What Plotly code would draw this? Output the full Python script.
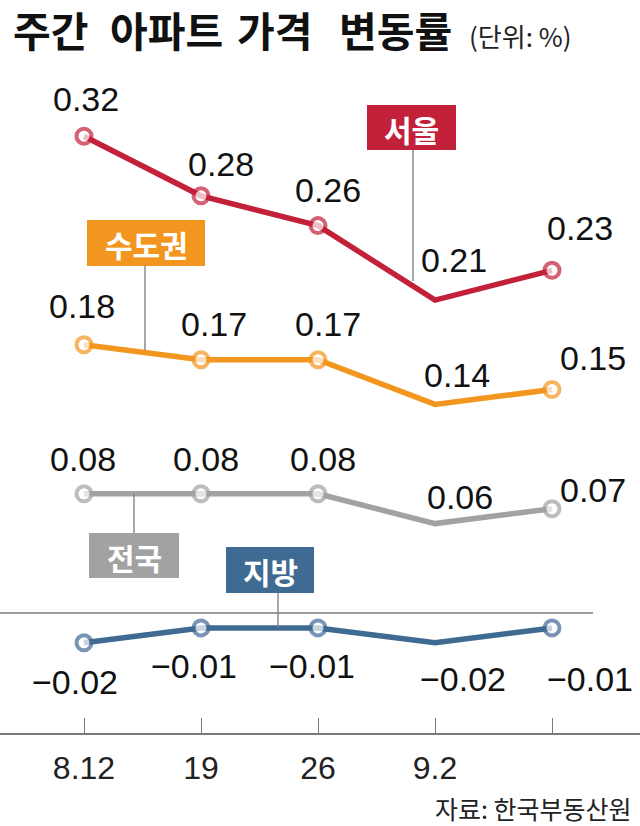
import plotly.graph_objects as go

# ---- data ----
categories = ["8.12", "19", "26", "9.2", ""]
series_names = ["서울", "수도권", "전국", "지방"]
seoul = [0.32, 0.28, 0.26, 0.21, 0.23]
capital = [0.18, 0.17, 0.17, 0.14, 0.15]
national = [0.08, 0.08, 0.08, 0.06, 0.07]
provinces = [-0.02, -0.01, -0.01, -0.02, -0.01]
title_words = ["주간", "아파트", "가격", "변동률"]

# ---- style ----
colors = {"서울": "#C3213A", "수도권": "#F3961F", "전국": "#A2A2A2", "지방": "#3F6B93"}
values = {"서울": seoul, "수도권": capital, "전국": national, "지방": provinces}
marker_sizes = [15, 15, 15, 0, 15]
# label offsets (px) per series per point
label_offsets = {
    "서울": [(2, -37), (20, -32), (10, -36), (19, -40), (28, -42)],
    "수도권": [(-2, -39), (13, -36), (10, -36), (22, -29), (41, -32)],
    "전국": [(-1, -35), (5, -35), (5, -35), (25, -27), (41, -19)],
    "지방": [(-9, 39), (-7, 38), (-6, 38), (28, 36), (38, 51)],
}
title_centers = [50, 166, 274, 395]

W, H = 640, 826
TOP, BOT = 60, 733  # plot area pixel bounds
K, ZERO = 1490.0, 613.0
yr = [(ZERO - BOT) / K, (ZERO - TOP) / K]
x0px, dxpx = 84.0, 117.0
xr = [(0 - x0px) / dxpx, (W - x0px) / dxpx]

def px(x):
    return x / W

def py(y):
    return (BOT - y) / (BOT - TOP)

NUMFONT = "Liberation Sans Narrow, Liberation Sans, Arial, sans-serif"
KFONT = "Noto Sans CJK KR, sans-serif"

fig = go.Figure()
xs = list(range(len(categories)))
for name in series_names:
    fig.add_trace(go.Scatter(
        x=xs, y=values[name], mode="lines+markers", name=name,
        line=dict(color=colors[name], width=5.5),
        marker=dict(symbol="circle", size=marker_sizes, color="white",
                    line=dict(color=colors[name], width=4)),
        hoverinfo="skip", showlegend=False,
    ))

annotations = []
for name in series_names:
    for i, v in enumerate(values[name]):
        dx, dy = label_offsets[name][i]
        txt = ("\u2212" + f"{abs(v):.2f}") if v < 0 else f"{v:.2f}"
        annotations.append(dict(
            x=i, y=v, xref="x", yref="y", text=txt, showarrow=False,
            xshift=dx, yshift=-dy, xanchor="center", yanchor="middle",
            font=dict(family=NUMFONT, size=34, color="#111111"),
        ))

shapes = []
# zero line
shapes.append(dict(type="line", xref="paper", yref="y", x0=0, x1=px(593), y0=0, y1=0,
                   line=dict(color="#7a7a7a", width=1.5)))

# label boxes: (name, x0, y0, x1, y1, leader_x, leader_y0, leader_y1)
boxes = [
    ("서울", 367, 105, 456, 150, 413, 150, 281),
    ("수도권", 87, 220, 205, 266, 145, 266, 350),
    ("전국", 89, 533, 179, 578, 134, 533, 494),
    ("지방", 226, 547, 314, 593, 278, 593, 628),
]
for name, bx0, by0, bx1, by1, lx, ly0, ly1 in boxes:
    shapes.append(dict(type="line", xref="paper", yref="paper",
                       x0=px(lx), x1=px(lx), y0=py(ly0), y1=py(ly1),
                       line=dict(color="#7a7a7a", width=1.3)))
    shapes.append(dict(type="rect", xref="paper", yref="paper",
                       x0=px(bx0), x1=px(bx1), y0=py(by1), y1=py(by0),
                       fillcolor=colors[name], line=dict(width=0), layer="above"))
    annotations.append(dict(
        x=px((bx0 + bx1) / 2), y=py((by0 + by1) / 2 + 1), xref="paper", yref="paper",
        text=f"<b>{name}</b>", showarrow=False, xanchor="center", yanchor="middle",
        font=dict(family=KFONT, size=30, color="white"),
    ))

# title (one word per annotation to keep the wide word spacing) & unit & source
for word, cx in zip(title_words, title_centers):
    annotations.append(dict(x=px(cx), y=py(29), xref="paper", yref="paper",
                            text=f"<b>{word}</b>", showarrow=False,
                            xanchor="center", yanchor="middle",
                            font=dict(family=KFONT, size=41, color="#111111")))
annotations.append(dict(x=px(467), y=py(36), xref="paper", yref="paper",
                        text="(단위: %)", showarrow=False,
                        xanchor="left", yanchor="middle",
                        font=dict(family=KFONT, size=26, color="#222222")))
annotations.append(dict(x=px(634), y=py(808), xref="paper", yref="paper",
                        text="자료: 한국부동산원", showarrow=False,
                        xanchor="right", yanchor="middle",
                        font=dict(family=KFONT, size=25, color="#222222")))

fig.update_layout(
    width=W, height=H,
    margin=dict(l=0, r=0, t=TOP, b=H - BOT, pad=0),
    paper_bgcolor="white", plot_bgcolor="white",
    xaxis=dict(range=xr, tickmode="array", tickvals=xs, ticktext=categories,
               showgrid=False, zeroline=False, showline=True, linecolor="#7a7a7a",
               linewidth=1.5, ticks="inside", ticklen=15, tickwidth=1.3,
               tickcolor="#7a7a7a", ticklabelstandoff=6, fixedrange=True,
               tickfont=dict(family=NUMFONT, size=32, color="#222222")),
    yaxis=dict(range=yr, visible=False, fixedrange=True),
    shapes=shapes, annotations=annotations,
)

fig.write_html("out.html", config={"displayModeBar": False},
               post_script="document.body.style.margin='0';document.body.style.overflow='hidden';")
